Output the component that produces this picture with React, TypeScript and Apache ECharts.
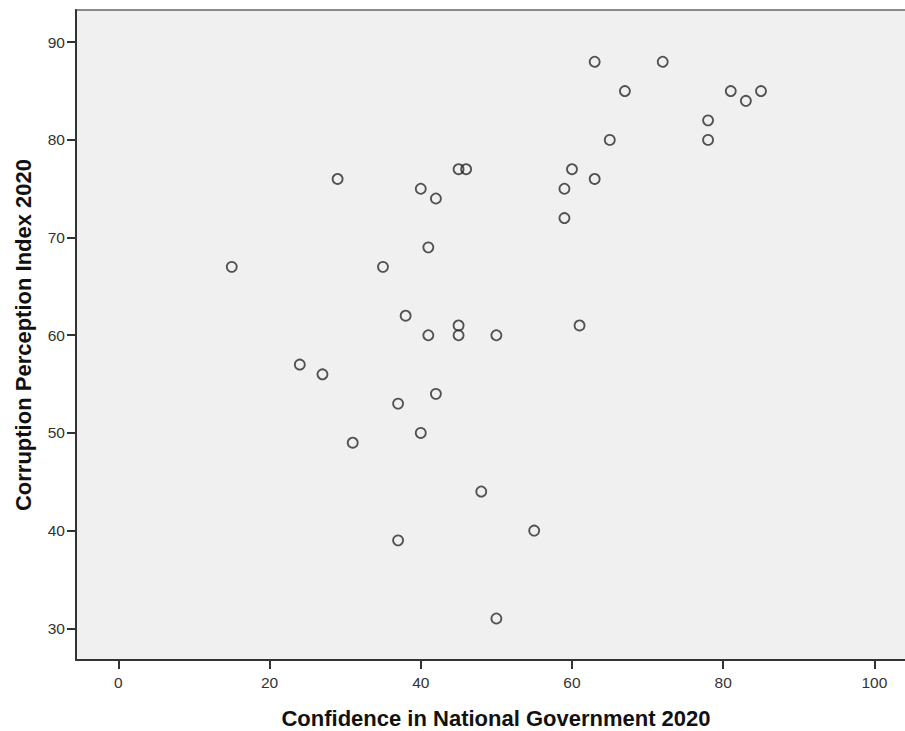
import React, { useEffect, useRef } from "react";
import * as echarts from "echarts";

const confidence = [15, 24, 27, 29, 31, 35, 37, 37, 38, 40, 40, 41, 41, 42, 42, 45, 46, 45, 45, 48, 50, 50, 55, 59, 59, 60, 61, 63, 63, 65, 67, 72, 78, 78, 81, 83, 85];
const cpi = [67, 57, 56, 76, 49, 67, 53, 39, 62, 75, 50, 69, 60, 74, 54, 77, 77, 61, 60, 44, 60, 31, 40, 75, 72, 77, 61, 88, 76, 80, 85, 88, 82, 80, 85, 84, 85];
const xTicks = [0, 20, 40, 60, 80, 100];
const yTicks = [30, 40, 50, 60, 70, 80, 90];
const xTitle = "Confidence in National Government 2020";
const yTitle = "Corruption Perception Index 2020";

export default function App() {
  const ref = useRef<HTMLDivElement>(null);
  useEffect(() => {
    const chart = echarts.init(ref.current!, null, { renderer: "svg" });
    const font = "Liberation Sans, Arial, sans-serif";
    chart.setOption({
      animation: false,
      backgroundColor: "#ffffff",
      grid: {
        left: 76,
        top: 10,
        width: 840,
        height: 650,
        outerBoundsMode: "none",
        containLabel: false,
        show: true,
        backgroundColor: "#f0f0f0",
        borderColor: "#8a8a8a",
        borderWidth: 2,
      },
      xAxis: {
        type: "value",
        min: -5.6,
        max: 105.5,
        name: xTitle,
        nameLocation: "middle",
        nameGap: 47,
        nameTextStyle: { fontFamily: font, fontWeight: "bold", fontSize: 22, color: "#111" },
        axisLine: { show: true, onZero: false, lineStyle: { color: "#333", width: 2 } },
        axisTick: { show: true, length: 9, customValues: xTicks, lineStyle: { color: "#333", width: 2 } },
        axisLabel: { customValues: xTicks, margin: 14, fontFamily: font, fontSize: 15.5, color: "#333" },
        splitLine: { show: false },
      },
      yAxis: {
        type: "value",
        min: 26.75,
        max: 93.3,
        name: yTitle,
        nameLocation: "middle",
        nameGap: 42,
        nameTextStyle: { fontFamily: font, fontWeight: "bold", fontSize: 22, color: "#111" },
        axisLine: { show: true, onZero: false, lineStyle: { color: "#333", width: 2 } },
        axisTick: { show: true, length: 9, customValues: yTicks, lineStyle: { color: "#333", width: 2 } },
        axisLabel: { customValues: yTicks, margin: 11, fontFamily: font, fontSize: 15.5, color: "#333" },
        splitLine: { show: false },
      },
      series: [
        {
          type: "scatter",
          data: confidence.map((x, i) => [x, cpi[i]]),
          symbol: "circle",
          symbolSize: 10,
          itemStyle: { color: "rgba(0,0,0,0)", borderColor: "#2a2a2a", borderWidth: 1.8 },
          emphasis: { disabled: true },
        },
      ],
    });
    return () => chart.dispose();
  }, []);
  return <div ref={ref} style={{ position: "fixed", left: 0, top: 0, width: 905, height: 731 }} />;
}
